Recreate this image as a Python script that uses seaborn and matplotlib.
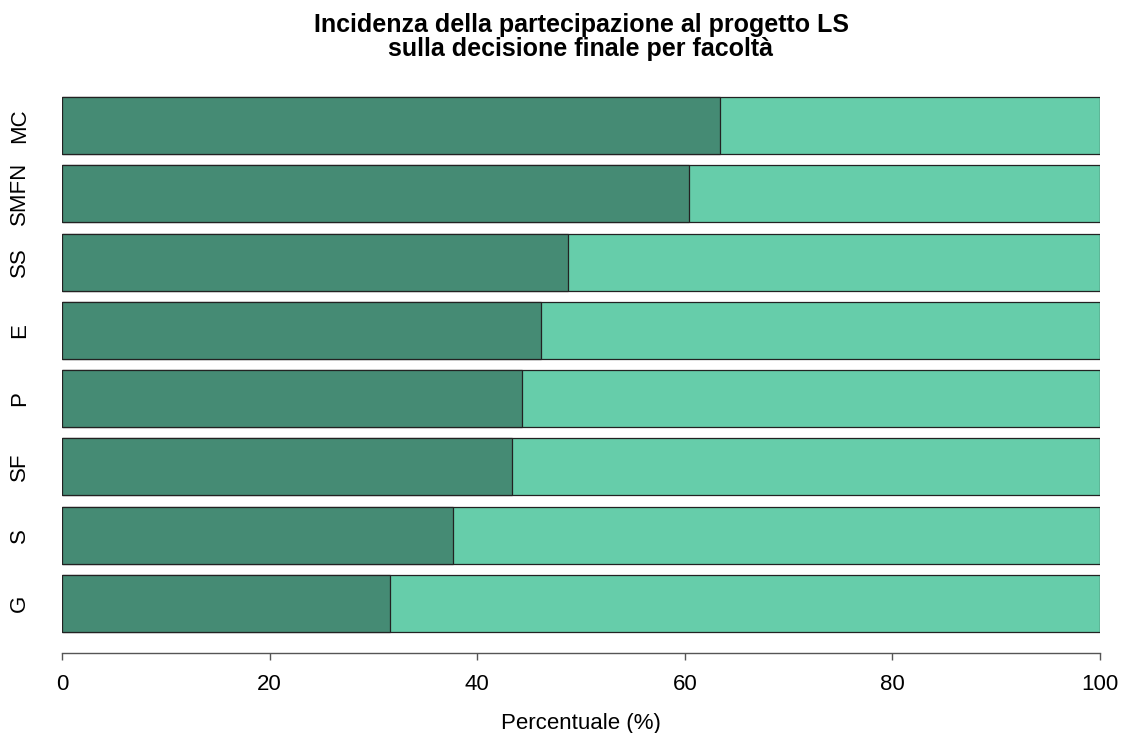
import pandas as pd
import matplotlib
matplotlib.use("Agg")
import matplotlib.pyplot as plt
import seaborn as sns

# values (share of "yes", in %), top to bottom
facolta = ["MC", "SMFN", "SS", "E", "P", "SF", "S", "G"]
perc_si = [63.4, 60.4, 48.7, 46.1, 44.3, 43.4, 37.7, 31.6]
totale = [100, 100, 100, 100, 100, 100, 100, 100]

df = pd.DataFrame({"facolta": facolta, "si": perc_si, "tot": totale})

sns.set_style("white")
plt.rcParams['font.family'] = ['Liberation Sans', 'DejaVu Sans']
plt.rcParams['text.color'] = 'black'
plt.rcParams['axes.labelcolor'] = 'black'
plt.rcParams['xtick.color'] = 'black'
plt.rcParams['ytick.color'] = 'black'

W, H = 1121, 733
fig = plt.figure(figsize=(W / 100, H / 100), dpi=100)
# axes box in pixels: left 62, right 1100, top 75.6, bottom 653.4
ax = fig.add_axes([62 / W, 1 - 653.4 / H, (1100 - 62) / W, (653.4 - 75.6) / H])

bar_w = 1 / 1.2
sns.barplot(data=df, x="tot", y="facolta", order=facolta, orient="h",
            color="#66CDAA", saturation=1, width=bar_w,
            edgecolor="#222222", linewidth=0.9, ax=ax)
sns.barplot(data=df, x="si", y="facolta", order=facolta, orient="h",
            color="#458B74", saturation=1, width=bar_w,
            edgecolor="#222222", linewidth=0.9, ax=ax)

ext = 0.376 / 1.2
ax.set_xlim(0, 100)
ax.set_ylim(len(facolta) - 1 + bar_w / 2 + ext, -bar_w / 2 - ext)

for s in ["top", "right", "left"]:
    ax.spines[s].set_visible(False)
ax.spines["bottom"].set_color("#555555")
ax.spines["bottom"].set_linewidth(1.0)
ax.set_xticks([0, 20, 40, 60, 80, 100])
ax.tick_params(axis="x", bottom=True, length=5, width=1.0, color="#555555",
               pad=10, labelsize=16, labelcolor="black")
ax.tick_params(axis="y", left=False, length=0, pad=23, labelsize=16, labelcolor="black")
for lab in ax.get_yticklabels():
    lab.set_rotation(90)
    lab.set_va("center")
    lab.set_ha("right")

ax.set_xlabel("Percentuale (%)", fontsize=16, labelpad=13, color="black")
ax.set_ylabel("")
ax.set_title("Incidenza della partecipazione al progetto LS\nsulla decisione finale per facoltà",
             fontsize=18, fontweight="bold", pad=14, linespacing=1.0, color="black")

fig.savefig("out.png", dpi=100)
